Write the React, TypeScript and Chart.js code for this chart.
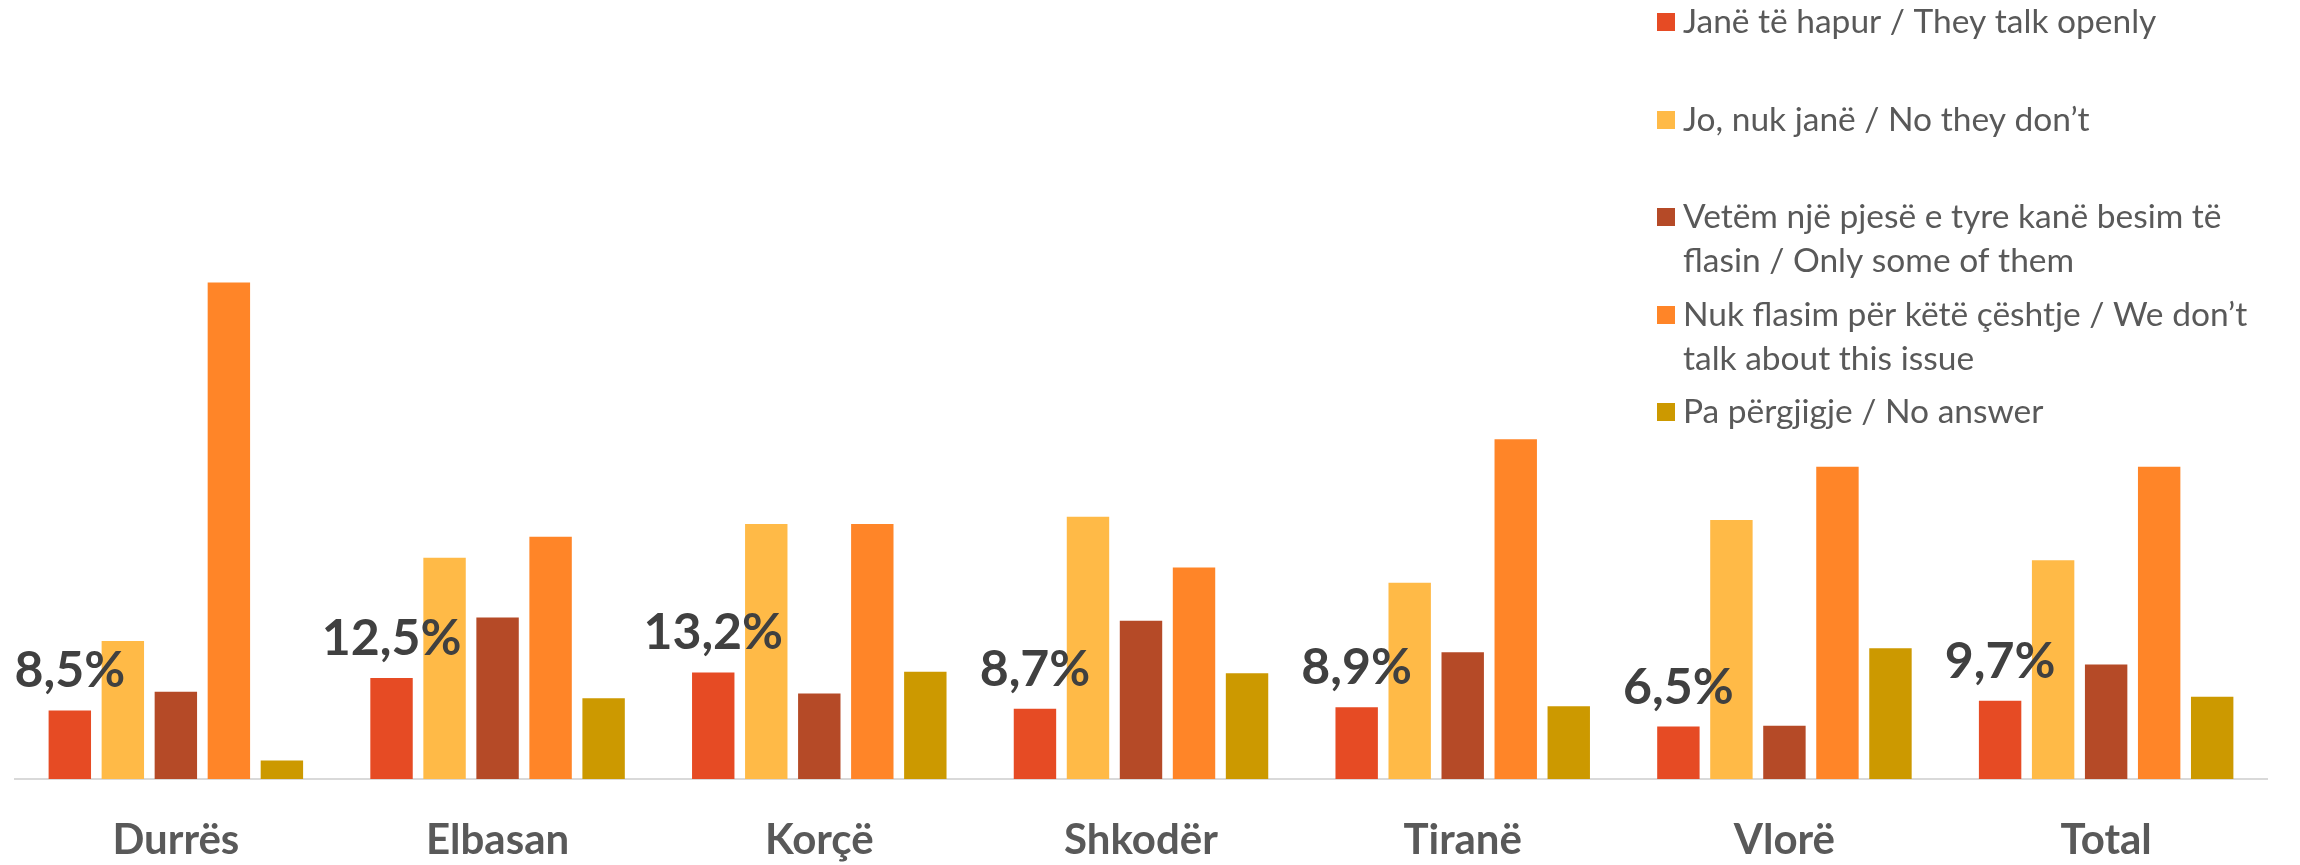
import React, { useEffect, useRef } from "react";
import { Chart, registerables } from "chart.js";

Chart.register(...registerables);

// ---- data ----
const categories = ["Durrës", "Elbasan", "Korçë", "Shkodër", "Tiranë", "Vlorë", "Total"];
const seriesLabels = [
  "Janë të hapur / They talk openly",
  "Jo, nuk janë / No they don’t",
  "Vetëm një pjesë e tyre kanë besim të flasin / Only some of them",
  "Nuk flasim për këtë çështje / We don’t talk about this issue",
  "Pa përgjigje / No answer",
];
const legendLines = [
  ["Janë të hapur / They talk openly"],
  ["Jo, nuk janë / No they don’t"],
  ["Vetëm një pjesë e tyre kanë besim të", "flasin / Only some of them"],
  ["Nuk flasim për këtë çështje / We don’t", "talk about this issue"],
  ["Pa përgjigje / No answer"],
];
const talkOpenly = [8.5, 12.5, 13.2, 8.7, 8.9, 6.5, 9.7];
const noTheyDont = [17.1, 27.4, 31.6, 32.5, 24.3, 32.1, 27.1];
const onlySome = [10.8, 20.0, 10.6, 19.6, 15.7, 6.6, 14.2];
const dontTalk = [61.5, 30.0, 31.6, 26.2, 42.1, 38.7, 38.7];
const noAnswer = [2.3, 10.0, 13.3, 13.1, 9.0, 16.2, 10.2];
const seriesValues = [talkOpenly, noTheyDont, onlySome, dontTalk, noAnswer];
const colors = ["#E64B24", "#FFBA47", "#B54A27", "#FF8528", "#CC9900"];
const yMax = 70;

const FONT = "Lato, 'Open Sans', sans-serif";

const dataLabelPlugin = {
  id: "redLabels",
  afterDatasetsDraw(chart: any) {
    const ctx = chart.ctx;
    const meta = chart.getDatasetMeta(0);
    ctx.save();
    ctx.font = `bold 50px ${FONT}`;
    ctx.fillStyle = "#404040";
    ctx.textAlign = "center";
    ctx.textBaseline = "alphabetic";
    meta.data.forEach((bar: any, i: number) => {
      const v = talkOpenly[i];
      const txt = v.toFixed(1).replace(".", ",") + "%";
      ctx.fillText(txt, bar.x, bar.y - 23);
    });
    ctx.restore();
  },
};

const legendPlugin = {
  id: "customLegend",
  afterDraw(chart: any) {
    const ctx = chart.ctx;
    ctx.save();
    ctx.font = `33.5px ${FONT}`;
    ctx.textBaseline = "middle";
    ctx.textAlign = "left";
    const x0 = 1657;
    const rowY = [22, 120, 217, 315, 412];
    legendLines.forEach((lines, i) => {
      const y = rowY[i];
      ctx.fillStyle = colors[i];
      ctx.fillRect(x0, y - 9, 18, 18);
      ctx.fillStyle = "#595959";
      lines.forEach((ln, j) => {
        ctx.fillText(ln, x0 + 26, y + j * 44);
      });
    });
    ctx.restore();
  },
};

export default function App() {
  const ref = useRef<HTMLCanvasElement | null>(null);
  useEffect(() => {
    if (!ref.current) return;
    const chart = new Chart(ref.current, {
      type: "bar",
      data: {
        labels: categories,
        datasets: seriesValues.map((vals, i) => ({
          label: seriesLabels[i],
          data: vals,
          backgroundColor: colors[i],
          borderWidth: 0,
          categoryPercentage: 0.824,
          barPercentage: 0.8,
        })),
      },
      options: {
        responsive: false,
        devicePixelRatio: 1,
        animation: false,
        layout: { padding: { left: 15, right: 33, top: 214, bottom: 0 } },
        plugins: {
          legend: { display: false },
          tooltip: { enabled: false },
          title: { display: false },
        },
        scales: {
          x: {
            grid: { display: false, drawTicks: false },
            border: { display: true, color: "#D9D9D9", width: 2 },
            ticks: {
              color: "#595959",
              font: { family: FONT, size: 42, weight: "bold" },
              padding: 36,
            },
            afterFit: (axis: any) => {
              axis.height = 86;
            },
          },
          y: {
            display: false,
            min: 0,
            max: yMax,
          },
        },
      },
      plugins: [dataLabelPlugin, legendPlugin],
    });
    return () => chart.destroy();
  }, []);
  return (
    <div style={{ position: "fixed", left: 0, top: 0, width: 2300, height: 865, background: "#fff" }}>
      <canvas ref={ref} width={2300} height={865} style={{ display: "block" }} />
    </div>
  );
}
